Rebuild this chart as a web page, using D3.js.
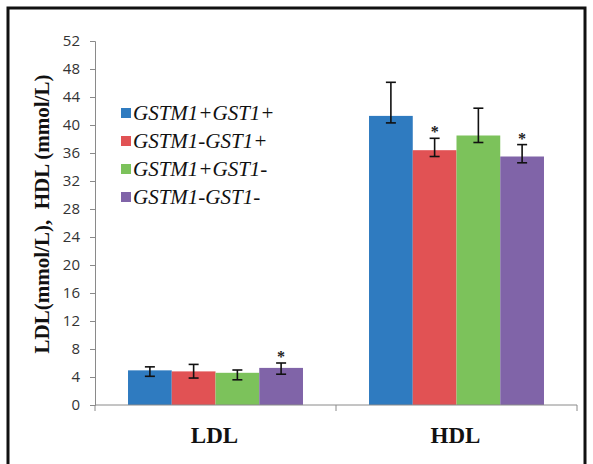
<!DOCTYPE html>
<html><head><meta charset="utf-8">
<script src="https://cdn.jsdelivr.net/npm/d3@7"></script>
<style>body{margin:0;background:#fff}svg{display:block}</style>
</head><body>
<script>
const categories = ["LDL", "HDL"];
const series = ["GSTM1+GST1+", "GSTM1-GST1+", "GSTM1+GST1-", "GSTM1-GST1-"];
const colors = ["#2f7bc0", "#e15254", "#7cc25b", "#8064a8"];
const ldlValues = [4.95, 4.8, 4.6, 5.3];
const ldlLow = [4.1, 3.85, 3.6, 4.4];
const ldlHigh = [5.45, 5.8, 5.0, 6.0];
const hdlValues = [41.3, 36.4, 38.5, 35.5];
const hdlLow = [40.3, 35.5, 37.5, 34.6];
const hdlHigh = [46.1, 38.1, 42.4, 37.2];
const stars = [[0, 3], [1, 1], [1, 3]];
const yTicks = [0, 4, 8, 12, 16, 20, 24, 28, 32, 36, 40, 44, 48, 52];

(function () {
const W = 593, H = 464;
const serif = "'Liberation Serif', 'Times New Roman', serif";
const svg = d3.select("body").append("svg").attr("width", W).attr("height", H);
svg.append("rect").attr("x", 8).attr("y", 8).attr("width", 577).attr("height", 470)
  .attr("fill", "none").attr("stroke", "#111").attr("stroke-width", 3);

const pl = 95, pr = 577, pt = 41, pb = 405;
const y = d3.scaleLinear().domain([0, 52]).range([pb, pt]);
const x0 = d3.scaleBand().domain(categories).range([pl, pr]).padding(0);
const bw = x0.bandwidth();
const x1 = d3.scaleBand().domain(series).range([bw * 0.137, bw * 0.863]).padding(0);

const data = [
  series.map((s, i) => ({cat: "LDL", s, i, v: ldlValues[i], lo: ldlLow[i], hi: ldlHigh[i]})),
  series.map((s, i) => ({cat: "HDL", s, i, v: hdlValues[i], lo: hdlLow[i], hi: hdlHigh[i]}))
].flat();

// y axis
const yAxis = d3.axisLeft(y).tickValues(yTicks).tickSize(5).tickPadding(10);
const ga = svg.append("g").attr("transform", `translate(${pl},0)`).call(yAxis);
ga.select(".domain").attr("stroke", "#8a8a8a");
ga.selectAll(".tick line").attr("stroke", "#8a8a8a");
ga.selectAll(".tick text").style("font-family", "'Open Sans', 'Liberation Sans', sans-serif")
  .style("font-size", "15px").attr("fill", "#333");

// bars
svg.append("g").selectAll("rect").data(data).join("rect")
  .attr("x", d => x0(d.cat) + x1(d.s))
  .attr("y", d => y(d.v))
  .attr("width", x1.bandwidth())
  .attr("height", d => y(0) - y(d.v))
  .attr("fill", d => colors[d.i]);

// error bars
const eg = svg.append("g").attr("stroke", "#111").attr("stroke-width", 1.6);
data.forEach(d => {
  const cx = x0(d.cat) + x1(d.s) + x1.bandwidth() / 2;
  eg.append("line").attr("x1", cx).attr("x2", cx).attr("y1", y(d.lo)).attr("y2", y(d.hi));
  eg.append("line").attr("x1", cx - 5).attr("x2", cx + 5).attr("y1", y(d.lo)).attr("y2", y(d.lo));
  eg.append("line").attr("x1", cx - 5).attr("x2", cx + 5).attr("y1", y(d.hi)).attr("y2", y(d.hi));
});

// stars
stars.forEach(([c, i]) => {
  const d = data[c * 4 + i];
  const cx = x0(d.cat) + x1(d.s) + x1.bandwidth() / 2;
  svg.append("text").attr("x", cx).attr("y", y(d.hi) - 1).attr("text-anchor", "middle")
    .style("font-family", serif).style("font-weight", "bold")
    .style("font-size", "16px").attr("fill", "#222").text("*");
});

// x axis
const xg = svg.append("g").attr("stroke", "#8a8a8a").attr("stroke-width", 1);
xg.append("line").attr("x1", pl).attr("x2", pr).attr("y1", pb).attr("y2", pb);
[pl, pl + bw, pr].forEach(xx => {
  xg.append("line").attr("x1", xx).attr("x2", xx).attr("y1", pb).attr("y2", pb + 6);
});
categories.forEach(c => {
  svg.append("text").attr("x", x0(c) + bw / 2 - 1).attr("y", 443).attr("text-anchor", "middle")
    .style("font-family", serif).style("font-weight", "bold")
    .style("font-size", "23px").attr("fill", "#111").text(c);
});

// y title
svg.append("text").attr("transform", `translate(49,214) rotate(-90)`)
  .attr("text-anchor", "middle").style("font-family", serif)
  .style("font-weight", "bold").style("font-size", "21px").attr("fill", "#111")
  .style("white-space", "pre").text("LDL(mmol/L),  HDL (mmol/L)");

// legend
const lg = svg.append("g");
series.forEach((s, i) => {
  const yy = 113 + i * 28;
  lg.append("rect").attr("x", 121).attr("y", yy - 5).attr("width", 10).attr("height", 10).attr("fill", colors[i]);
  lg.append("text").attr("x", 133).attr("y", yy + 7).style("font-family", serif)
    .style("font-style", "italic").style("font-size", "21px").attr("fill", "#111").text(s);
});
})();
</script>
</body></html>
